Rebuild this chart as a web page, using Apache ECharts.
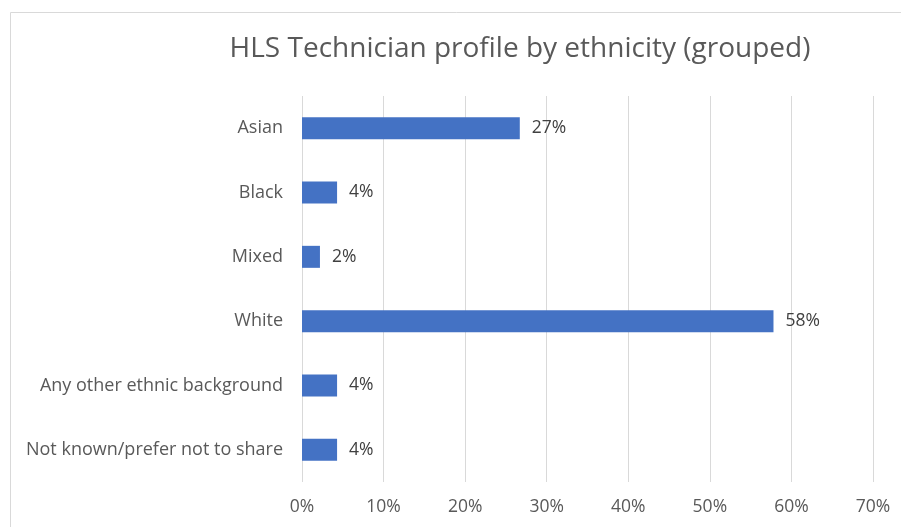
<!DOCTYPE html>
<html>
<head>
<meta charset="utf-8">
<script src="https://cdn.jsdelivr.net/npm/echarts@6/dist/echarts.min.js"></script>
<style>
html,body{margin:0;padding:0;background:#fff;}
#chart{width:901px;height:527px;}
</style>
</head>
<body>
<div id="chart"></div>
<script>
var titleText = 'HLS Technician profile by ethnicity (grouped)';
var categories = ['Asian', 'Black', 'Mixed', 'White', 'Any other ethnic background', 'Not known/prefer not to share'];
var values = [26.7, 4.3, 2.2, 57.8, 4.3, 4.3];
var xTicks = [0, 10, 20, 30, 40, 50, 60, 70];

var chart = echarts.init(document.getElementById('chart'));
var font = '"Open Sans", sans-serif';
chart.setOption({
  animation: false,
  graphic: [{
    type: 'rect',
    shape: {x: 10.5, y: 12.5, width: 1000, height: 1000},
    style: {fill: 'none', stroke: '#d9d9d9', lineWidth: 1},
    silent: true
  }],
  title: {
    text: titleText,
    left: 515, top: 30, textAlign: 'center',
    textStyle: {fontFamily: font, fontSize: 28, fontWeight: 'normal', color: '#595959'}
  },
  grid: {left: 302, right: 28, top: 96, bottom: 45},
  xAxis: {
    type: 'value',
    min: xTicks[0], max: xTicks[xTicks.length - 1], interval: 10,
    axisLine: {show: false}, axisTick: {show: false},
    splitLine: {lineStyle: {color: '#d9d9d9', width: 1}},
    axisLabel: {formatter: '{value}%', color: '#595959', fontSize: 17.5, fontFamily: font, margin: 16}
  },
  yAxis: {
    type: 'category',
    data: categories,
    inverse: true,
    axisLine: {show: false}, axisTick: {show: false},
    axisLabel: {color: '#595959', fontSize: 18, fontFamily: font, margin: 19}
  },
  series: [{
    type: 'bar',
    data: values,
    barWidth: 22,
    itemStyle: {color: '#4472c4'},
    label: {
      show: true, position: 'right', distance: 12,
      formatter: function(p){ return Math.round(p.value) + '%'; },
      color: '#404040', fontSize: 17.5, fontFamily: font
    }
  }]
});
</script>
</body>
</html>
